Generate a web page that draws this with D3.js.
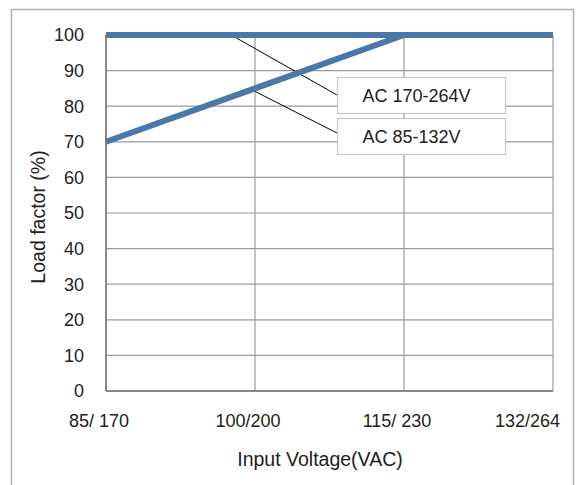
<!DOCTYPE html>
<html><head><meta charset="utf-8">
<script src="https://cdn.jsdelivr.net/npm/d3@7"></script>
<style>body{margin:0;background:#fff}svg{display:block}text{font-family:"Liberation Sans",Arial,sans-serif;fill:#222}</style>
</head><body>
<svg id="c" width="583" height="485"></svg>
<script>
const categories = ["85/ 170", "100/200", "115/ 230", "132/264"];
const yTicks = [0,10,20,30,40,50,60,70,80,90,100];
const seriesHigh = [100, 100, 100, 100];   // AC 170-264V
const seriesLow  = [70, 85, 100, 100];     // AC 85-132V
const legendLabels = ["AC 170-264V", "AC 85-132V"];

const svg = d3.select("#c");
const m = {left:106, right:553, top:35, bottom:391};
const x = d3.scalePoint().domain(categories).range([m.left, m.right]);
const y = d3.scaleLinear().domain([0,100]).range([m.bottom, m.top]);

// outer frame
svg.append("rect").attr("x",11.5).attr("y",9.5).attr("width",562).attr("height",490)
  .attr("fill","none").attr("stroke","#b0b0b0").attr("stroke-width",1.5);

// gridlines
const g = svg.append("g");
g.selectAll("line.h").data(yTicks.filter(d=>d>0)).join("line")
  .attr("x1",m.left).attr("x2",m.right).attr("y1",d=>y(d)).attr("y2",d=>y(d))
  .attr("stroke","#9a9a9a").attr("stroke-width",1.2);
g.selectAll("line.v").data(categories.slice(1)).join("line")
  .attr("x1",d=>x(d)).attr("x2",d=>x(d)).attr("y1",m.top).attr("y2",m.bottom)
  .attr("stroke","#9a9a9a").attr("stroke-width",1.2);
// axes lines
svg.append("line").attr("x1",m.left).attr("x2",m.left).attr("y1",m.top).attr("y2",m.bottom).attr("stroke","#888").attr("stroke-width",2);
svg.append("line").attr("x1",m.left).attr("x2",m.right).attr("y1",m.bottom).attr("y2",m.bottom).attr("stroke","#888").attr("stroke-width",2);

// y tick labels
svg.append("g").selectAll("text").data(yTicks).join("text")
  .attr("x",84).attr("y",d=>y(d)).attr("dy","0.36em").attr("text-anchor","end")
  .attr("font-size",18).text(d=>d);
// x tick labels
const last = categories.length-1;
svg.append("g").selectAll("text").data(categories).join("text")
  .attr("x",(d,i)=> i===last ? x(d)+7 : x(d)-7).attr("y",427)
  .attr("text-anchor",(d,i)=> i===last ? "end" : "middle")
  .attr("font-size",18).text(d=>d);

// titles
svg.append("text").attr("x",320).attr("y",466).attr("text-anchor","middle").attr("font-size",19.5).text("Input Voltage(VAC)");
svg.append("text").attr("transform","translate(45,217) rotate(-90)").attr("text-anchor","middle").attr("font-size",19.5).text("Load factor (%)");

// leader lines
const lineGen = d3.line().x((d,i)=>x(categories[i])).y(d=>y(d));
const leaders = svg.append("g").attr("stroke","#000").attr("stroke-width",1);
leaders.append("line").attr("x1",x(categories[0])+ (x(categories[1])-x(categories[0]))*0.84).attr("y1",y(seriesHigh[1]))
  .attr("x2",337).attr("y2",95);
leaders.append("line").attr("x1",x(categories[1])-2).attr("y1",y(seriesLow[1])+2)
  .attr("x2",337).attr("y2",133);

// series
svg.append("path").datum(seriesLow).attr("d",lineGen).attr("fill","none")
  .attr("stroke","#4a78a8").attr("stroke-width",6);
svg.append("path").datum(seriesHigh).attr("d",lineGen).attr("fill","none")
  .attr("stroke","#4a78a8").attr("stroke-width",6);

// legend boxes
const lg = svg.append("g").selectAll("g").data(legendLabels).join("g")
  .attr("transform",(d,i)=>`translate(337.5,${77.5+i*41})`);
lg.append("rect").attr("width",168).attr("height",36).attr("fill","#fff").attr("stroke","#c8c8c8").attr("stroke-width",1.2);
lg.append("text").attr("x",25).attr("y",18).attr("dy","0.36em").attr("font-size",18).text(d=>d);
</script>
</body></html>
